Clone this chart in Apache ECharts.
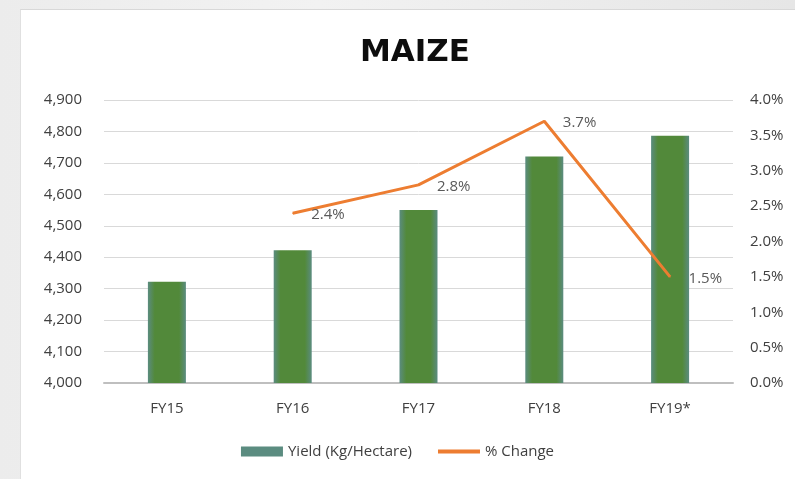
<!DOCTYPE html>
<html>
<head>
<meta charset="utf-8">
<script src="https://cdn.jsdelivr.net/npm/echarts@6/dist/echarts.min.js"></script>
<style>
html, body { margin: 0; padding: 0; }
body {
    width: 795px; height: 479px; position: relative; overflow: hidden;
    background: linear-gradient(90deg, #ececec 0%, #f2f2f2 40%, #e6e6e6 100%);
}
.panel {
    position: absolute; left: 20px; top: 9px; right: 0; bottom: 0;
    background: #fff;
    border-top: 1px solid #d8d8d8;
    border-left: 1px solid #e0e0e0;
}
#chart { position: absolute; left: 0; top: 0; width: 795px; height: 479px; }
</style>
</head>
<body>
<div class="panel"></div>
<div id="chart"></div>
<script>
// data
var categories = ['FY15', 'FY16', 'FY17', 'FY18', 'FY19*'];
var yieldValues = [4322, 4422, 4550, 4720, 4786];
var changeValues = [null, 2.4, 2.8, 3.7, 1.5];

var font = 'Open Sans';
var chart = echarts.init(document.getElementById('chart'));
var option = {
    animation: false,
    backgroundColor: 'transparent',
    title: {
        text: 'MAIZE',
        left: 410,
        textAlign: 'center',
        top: 32,
        textStyle: { fontFamily: 'DejaVu Sans', fontWeight: 'bold', fontSize: 31, color: '#0d0d0d' }
    },
    grid: { left: 104, right: 62, top: 100, bottom: 96 },
    legend: {
        bottom: 15,
        left: 'center',
        itemGap: 26,
        itemWidth: 42,
        itemHeight: 10,
        textStyle: { fontFamily: font, fontSize: 15, color: '#404040' },
        data: [
            { name: 'Yield (Kg/Hectare)', icon: 'rect', itemStyle: { color: '#5b8c80', borderWidth: 0 } },
            { name: '% Change', icon: 'path://M0,0 L10,0 L10,1 L0,1 Z', itemStyle: { color: '#ed7d31' } }
        ]
    },
    xAxis: {
        type: 'category',
        data: categories,
        axisLine: { lineStyle: { color: '#bfbfbf', width: 2 } },
        axisTick: { show: false },
        axisLabel: { fontFamily: font, fontSize: 15, color: '#404040', margin: 18 }
    },
    yAxis: [
        {
            type: 'value',
            min: 4000,
            max: 4900,
            interval: 100,
            axisLine: { show: false },
            axisTick: { show: false },
            splitLine: { lineStyle: { color: '#d9d9d9' } },
            axisLabel: {
                fontFamily: font, fontSize: 15, color: '#404040', margin: 22,
                formatter: function (v) { return v.toLocaleString('en-US'); }
            }
        },
        {
            type: 'value',
            min: 0,
            max: 4,
            interval: 0.5,
            axisLine: { show: false },
            axisTick: { show: false },
            splitLine: { show: false },
            axisLabel: {
                fontFamily: font, fontSize: 15, color: '#404040', margin: 17,
                formatter: function (v) { return v.toFixed(1) + '%'; }
            }
        }
    ],
    series: [
        {
            name: 'Yield (Kg/Hectare)',
            type: 'bar',
            data: yieldValues,
            barWidth: 38,
            itemStyle: {
                color: new echarts.graphic.LinearGradient(0, 0, 1, 0, [
                    { offset: 0, color: '#5b8c80' },
                    { offset: 0.18, color: '#52893a' },
                    { offset: 0.82, color: '#52893a' },
                    { offset: 1, color: '#5b8c80' }
                ])
            }
        },
        {
            name: '% Change',
            type: 'line',
            yAxisIndex: 1,
            data: changeValues,
            symbol: 'circle',
            symbolSize: 1,
            showSymbol: true,
            lineStyle: { color: '#ed7d31', width: 3 },
            itemStyle: { color: '#ed7d31' },
            label: {
                show: true,
                position: 'right',
                distance: 18,
                offset: [0, 2],
                fontFamily: font,
                fontSize: 15,
                color: '#595959',
                formatter: function (p) {
                    return p.value == null ? '' : Number(p.value).toFixed(1) + '%';
                }
            }
        }
    ]
};
chart.setOption(option);
</script>
</body>
</html>
